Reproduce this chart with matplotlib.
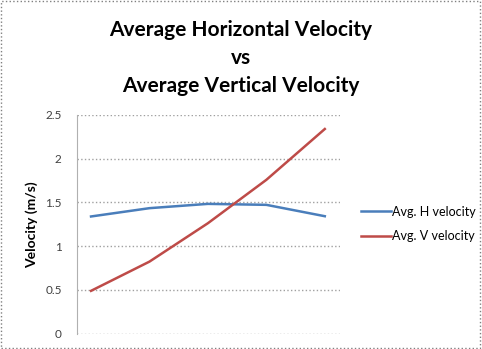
import matplotlib.pyplot as plt
from matplotlib.patches import Rectangle

plt.rcParams['font.family'] = ['Lato', 'DejaVu Sans']

trial = [1, 2, 3, 4, 5]
h_velocity = [1.34, 1.435, 1.484, 1.473, 1.343]
v_velocity = [0.49, 0.824, 1.263, 1.759, 2.34]
y_ticks = [0, 0.5, 1, 1.5, 2, 2.5]

fig = plt.figure(figsize=(4.82, 3.49), dpi=100)
ax = fig.add_axes([77 / 482, 1 - 333.7 / 349, (340 - 77) / 482, (333.7 - 115) / 349])

ax.plot(trial, h_velocity, color='#4a7ebb', linewidth=1.8, label='Avg. H velocity')
ax.plot(trial, v_velocity, color='#be4b48', linewidth=1.8, label='Avg. V velocity')

ax.set_xlim(0.76, 5.26)
ax.set_ylim(0, 2.5)
ax.set_yticks(y_ticks)
ax.set_yticklabels(['0', '0.5', '1', '1.5', '2', '2.5'], fontsize=8.5, color='#404040')
ax.set_xticks([])
ax.grid(axis='y', color='#a0a0a0', linestyle=':', linewidth=1)
ax.tick_params(axis='y', length=0, pad=11)
for s in ['top', 'right', 'bottom']:
    ax.spines[s].set_visible(False)
ax.spines['left'].set_color('#b0b0b0')
ax.set_ylabel('Velocity (m/s)', fontsize=10, fontweight='bold', labelpad=5)

fig.text(0.5, 1 - 30 / 349, 'Average Horizontal Velocity', ha='center', va='center',
         fontsize=15, fontweight='bold')
fig.text(0.5, 1 - 58 / 349, 'vs', ha='center', va='center', fontsize=15, fontweight='bold')
fig.text(0.5, 1 - 86 / 349, 'Average Vertical Velocity', ha='center', va='center',
         fontsize=15, fontweight='bold')

leg = ax.legend(loc='center left', bbox_to_anchor=(350 / 482, 1 - 224 / 349),
                bbox_transform=fig.transFigure, frameon=False, fontsize=9,
                handlelength=2.4, handletextpad=0.1, labelspacing=1.0)

fig.patches.append(Rectangle((0.002, 0.003), 0.994, 0.994, transform=fig.transFigure,
                             fill=False, edgecolor='#808080', linestyle=':', linewidth=1))

fig.savefig('out.png', dpi=100)
